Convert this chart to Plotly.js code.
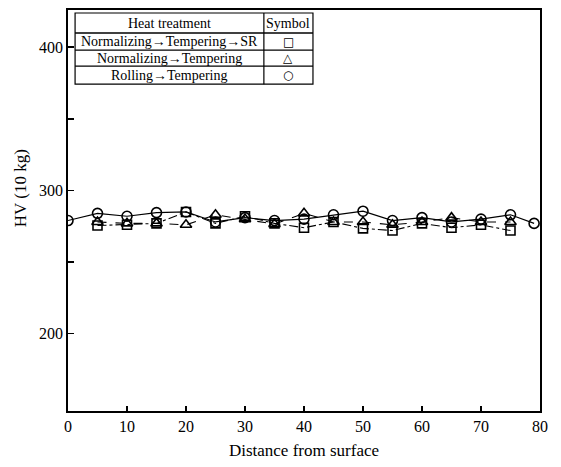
<!DOCTYPE html>
<html>
<head>
<meta charset="utf-8">
<script src="https://cdn.plot.ly/plotly-3.0.1.min.js"></script>
<style>html,body{margin:0;padding:0;background:#fff;}#chart{width:561px;height:467px;}</style>
</head>
<body>
<div id="chart"></div>
<script>
// Distance from surface (x) and HV (10 kg) hardness values
const xRolling = [0, 5, 10, 15, 20, 25, 30, 35, 40, 45, 50, 55, 60, 65, 70, 75, 79];
const hvRolling = [279, 284, 282, 284.5, 285, 278, 281, 279, 280, 283, 285.5, 279, 281, 278, 280, 283, 277];

const xNormTempSR = [5, 10, 15, 20, 25, 30, 35, 40, 45, 50, 55, 60, 65, 70, 75];
const hvNormTempSR = [275.5, 276, 277, 285, 277, 282, 277, 274, 278, 273.5, 272, 277, 274, 276, 272];

const xNormTemp = [5, 10, 15, 20, 25, 30, 35, 40, 45, 50, 55, 60, 65, 70, 75];
const hvNormTemp = [278, 277, 277, 276, 283, 280, 276.5, 284, 278, 278, 276, 278, 281, 278, 278];

const xTickVals = [0, 10, 20, 30, 40, 50, 60, 70, 80];
const yTickVals = [200, 300, 400];
const yMinorVals = [250, 350];

const legendHeader = ["Heat treatment", "Symbol"];
const legendRows = ["Normalizing\u2192Tempering\u2192SR", "Normalizing\u2192Tempering", "Rolling\u2192Tempering"];
const legendSymbols = ["\u25A1", "\u25B3", "\u25CB"];
const yTitle = "HV (10 kg)";
const xTitle = "Distance from surface";

const serif = "Liberation Serif, Times New Roman, serif";

const traces = [
  {
    x: xNormTempSR, y: hvNormTempSR, type: 'scatter', mode: 'lines+markers',
    line: {color: '#000', width: 1.1, dash: 'dashdot'},
    marker: {symbol: 'square-open', size: 9, color: '#000', line: {width: 1.6, color: '#000'}},
    showlegend: false
  },
  {
    x: xNormTemp, y: hvNormTemp, type: 'scatter', mode: 'lines+markers',
    line: {color: '#000', width: 1.1, dash: 'dash'},
    marker: {symbol: 'triangle-up-open', size: 10, color: '#000', line: {width: 1.6, color: '#000'}},
    showlegend: false
  },
  {
    x: xRolling, y: hvRolling, type: 'scatter', mode: 'lines+markers',
    line: {color: '#000', width: 1.2},
    marker: {symbol: 'circle-open', size: 10, color: '#000', line: {width: 1.6, color: '#000'}},
    showlegend: false
  }
];

// legend table geometry in paper coords
const tL = 0.015, tR = 0.519, tD = 0.415;
const rowY = [0.9925, 0.9426, 0.900, 0.860, 0.815];
const shapes = [];
shapes.push({type: 'rect', xref: 'paper', yref: 'paper', x0: tL, x1: tR, y0: rowY[4], y1: rowY[0], line: {color: '#000', width: 1.2}, fillcolor: 'rgba(0,0,0,0)'});
for (let i = 1; i < 4; i++) {
  shapes.push({type: 'line', xref: 'paper', yref: 'paper', x0: tL, x1: tR, y0: rowY[i], y1: rowY[i], line: {color: '#000', width: i === 1 ? 1.6 : 1.2}});
}
shapes.push({type: 'line', xref: 'paper', yref: 'paper', x0: tD, x1: tD, y0: rowY[4], y1: rowY[0], line: {color: '#000', width: 1.2}});

const annotations = [];
annotations.push({xref: 'paper', yref: 'paper', x: (tL + tD) / 2, y: (rowY[0] + rowY[1]) / 2, text: legendHeader[0], showarrow: false, font: {family: serif, size: 14, color: '#000'}, xanchor: 'center', yanchor: 'middle'});
annotations.push({xref: 'paper', yref: 'paper', x: (tD + tR) / 2, y: (rowY[0] + rowY[1]) / 2, text: legendHeader[1], showarrow: false, font: {family: serif, size: 14, color: '#000'}, xanchor: 'center', yanchor: 'middle'});
for (let i = 0; i < 3; i++) {
  annotations.push({xref: 'paper', yref: 'paper', x: (tL + tD) / 2, y: (rowY[i + 1] + rowY[i + 2]) / 2, text: legendRows[i], showarrow: false, font: {family: serif, size: 14, color: '#000'}, xanchor: 'center', yanchor: 'middle'});
  annotations.push({xref: 'paper', yref: 'paper', x: (tD + tR) / 2, y: (rowY[i + 1] + rowY[i + 2]) / 2, text: legendSymbols[i], showarrow: false, font: {family: 'DejaVu Sans', size: 12, color: '#000'}, xanchor: 'center', yanchor: 'middle'});
}
annotations.push({xref: 'paper', yref: 'paper', x: -0.1, y: 0.555, text: yTitle, textangle: -90, showarrow: false, font: {family: serif, size: 17, color: '#000'}, xanchor: 'center', yanchor: 'middle'});

const layout = {
  width: 561, height: 467,
  margin: {l: 68, r: 21, t: 10, b: 56},
  paper_bgcolor: '#fff', plot_bgcolor: '#fff',
  font: {family: serif, color: '#000', size: 16},
  xaxis: {
    range: [0, 80], tickmode: 'array', tickvals: xTickVals,
    ticks: 'inside', ticklen: 5, tickwidth: 1.5, tickcolor: '#000',
    showline: true, linecolor: '#000', linewidth: 1.8, mirror: true,
    showgrid: false, zeroline: false,
    tickfont: {family: serif, size: 16},
    title: {text: xTitle, font: {family: serif, size: 17}, standoff: 10}
  },
  yaxis: {
    range: [146, 426], tickmode: 'array', tickvals: yTickVals,
    ticks: 'inside', ticklen: 6, tickwidth: 1.5, tickcolor: '#000',
    minor: {tickmode: 'array', tickvals: yMinorVals, ticks: 'inside', ticklen: 6, tickwidth: 1.5, tickcolor: '#000', showgrid: false},
    showline: true, linecolor: '#000', linewidth: 1.8, mirror: true,
    showgrid: false, zeroline: false,
    tickfont: {family: serif, size: 16}
  },
  shapes: shapes,
  annotations: annotations
};

Plotly.newPlot('chart', traces, layout, {displayModeBar: false, staticPlot: true});
</script>
</body>
</html>
